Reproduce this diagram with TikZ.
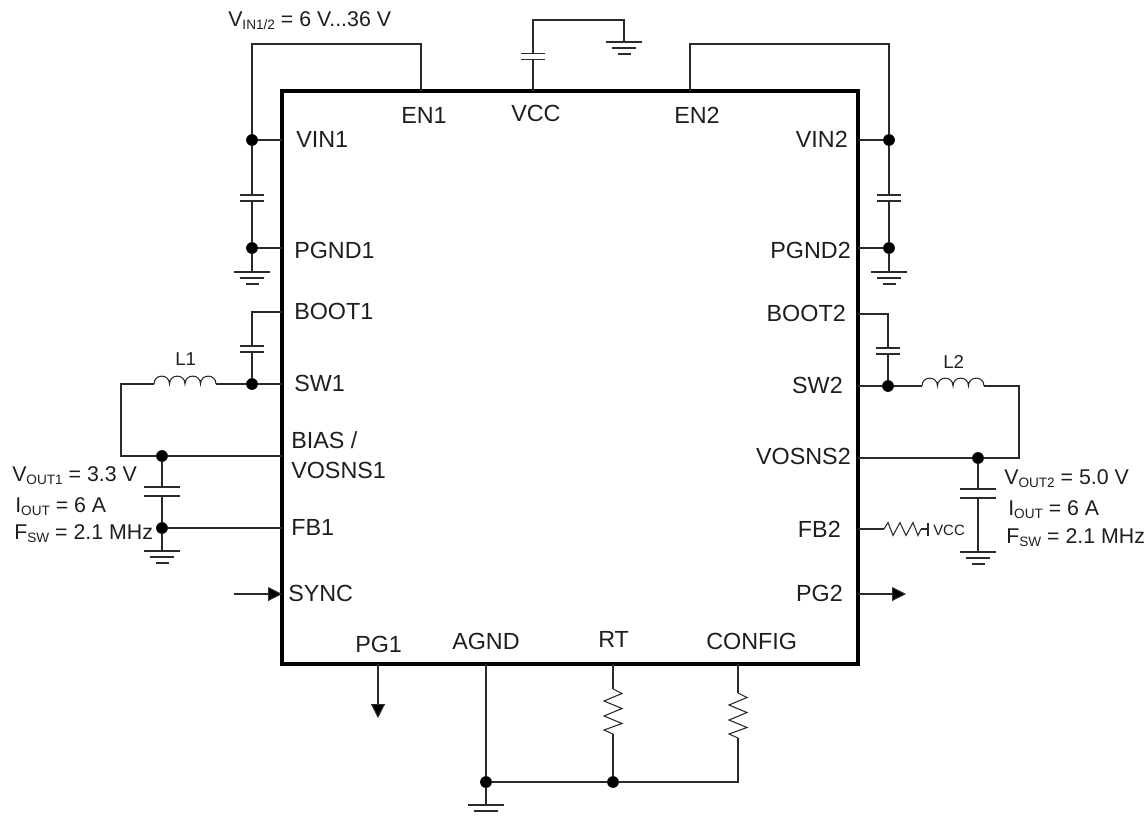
\documentclass[tikz,border=0pt]{standalone}
\usepackage{fontspec}
\setmainfont{Liberation Sans}
\usetikzlibrary{arrows.meta}
\definecolor{ink}{HTML}{1E1E1E}
\definecolor{wirec}{HTML}{2A2A2A}
\newcommand{\lowsub}[1]{\raisebox{-2.6pt}{\fontsize{10.2}{12}\selectfont #1}}
\tikzset{
  wire/.style={draw=wirec,line width=0.8pt,line join=miter},
  sig/.style={wire,-{Triangle[length=10.5pt,width=10.5pt,fill=black]}},
  chipbox/.style={draw=black,line width=2.3pt,minimum width=432pt,minimum height=429.75pt,inner sep=0},
  dot/.style={circle,fill=black,inner sep=0,minimum size=8.8pt},
  pinl/.style={anchor=base west,inner sep=0,text=ink,font=\fontsize{17.5}{20}\selectfont},
  pinr/.style={anchor=base east,inner sep=0,text=ink,font=\fontsize{17.5}{20}\selectfont},
  spec/.style={anchor=base west,inner sep=0,text=ink,font=\fontsize{16}{18}\selectfont},
  tiny/.style={anchor=base west,inner sep=0,text=ink,font=\fontsize{11.2}{13}\selectfont},
  coiltext/.style={anchor=base west,inner sep=0,text=ink,font=\fontsize{14}{16}\selectfont},
  capsmall/.pic={\draw[wire] (-12,-3)--(12,-3) (-12,3)--(12,3);},
  capbig/.pic={\draw[wire] (-18,-4.5)--(18,-4.5) (-18,4.5)--(18,4.5);},
  gnd/.pic={\draw[wire] (-18,0)--(18,0) (-12,6)--(12,6) (-6.5,12)--(6.5,12);},
  coil/.pic={\draw[wire] (0,0)
    .. controls (0,-10.5) and (15.5,-10.5) .. (15.5,0)
    .. controls (15.5,-10.5) and (31,-10.5) .. (31,0)
    .. controls (31,-10.5) and (46.5,-10.5) .. (46.5,0)
    .. controls (46.5,-10.5) and (62,-10.5) .. (62,0);},
  rzig/.pic={\draw[wire] (0,0)--(9,4.5)--(-9,12)--(9,19.5)--(-9,27)--(9,34.5)--(-9,41)--(0,45);},
  hzig/.pic={\draw[wire] (0,0)--(4,-6.5)--(9,6.5)--(16,-6.5)--(22,6.5)--(29,-6.5)--(34,6.5)--(37,0);},
}
\begin{document}
\begin{tikzpicture}[x=0.75pt,y=-0.75pt]
\useasboundingbox (0,0) rectangle (1147,815);
\node[chipbox] (chip) at (570,377.5) {};

% --- top left: input 1
\coordinate (en1pin) at (421,91);
\coordinate (en1top) at (421,44);
\coordinate (vin1top) at (252,44);
\node[dot] (vin1dot) at (252,140) {};
\coordinate (vin1pin) at (282,140);
\coordinate (c1a) at (252,195);
\coordinate (c1b) at (252,201);
\node[dot] (pgnd1dot) at (252,248) {};
\coordinate (pgnd1pin) at (282,248);
\coordinate (g1) at (252,272);
\draw[wire] (en1pin)--(en1top)--(vin1top)--(vin1dot);
\draw[wire] (vin1dot)--(vin1pin);
\draw[wire] (vin1dot)--(c1a);
\draw[wire] (c1b)--(pgnd1dot);
\draw[wire] (pgnd1dot)--(pgnd1pin);
\draw[wire] (pgnd1dot)--(g1);
\pic at (252,198) {capsmall};
\pic at (g1) {gnd};

% --- VCC
\coordinate (vccpin) at (533,91);
\coordinate (c2b) at (533,60);
\coordinate (c2a) at (533,53);
\coordinate (vcctopl) at (533,20);
\coordinate (vcctopr) at (624,20);
\coordinate (g2) at (624,42);
\draw[wire] (vccpin)--(c2b);
\draw[wire] (c2a)--(vcctopl)--(vcctopr)--(g2);
\pic at (533,56.5) {capsmall};
\pic at (g2) {gnd};

% --- top right: input 2
\coordinate (en2pin) at (690,91);
\coordinate (en2top) at (690,44);
\coordinate (vin2top) at (889,44);
\node[dot] (vin2dot) at (889,140) {};
\coordinate (vin2pin) at (858,140);
\coordinate (c3a) at (889,195);
\coordinate (c3b) at (889,201);
\node[dot] (pgnd2dot) at (889,248) {};
\coordinate (pgnd2pin) at (858,248);
\coordinate (g3) at (889,272);
\draw[wire] (en2pin)--(en2top)--(vin2top)--(vin2dot);
\draw[wire] (vin2dot)--(vin2pin);
\draw[wire] (vin2dot)--(c3a);
\draw[wire] (c3b)--(pgnd2dot);
\draw[wire] (pgnd2dot)--(pgnd2pin);
\draw[wire] (pgnd2dot)--(g3);
\pic at (889,198) {capsmall};
\pic at (g3) {gnd};

% --- left switch node
\coordinate (boot1pin) at (282,312);
\coordinate (boot1c) at (252,312);
\coordinate (c4a) at (252,346);
\coordinate (c4b) at (252,352);
\node[dot] (sw1dot) at (252,384) {};
\coordinate (sw1pin) at (282,384);
\coordinate (l1r) at (216,384);
\coordinate (l1l) at (154,384);
\coordinate (l1far) at (121,384);
\coordinate (l1low) at (121,456);
\node[dot] (v1dot) at (162,456) {};
\coordinate (biaspin) at (282,456);
\coordinate (c5a) at (162,487);
\coordinate (c5b) at (162,496);
\node[dot] (fb1dot) at (162,528) {};
\coordinate (fb1pin) at (282,528);
\coordinate (g4) at (162,551);
\draw[wire] (boot1pin)--(boot1c)--(c4a);
\draw[wire] (c4b)--(sw1dot);
\draw[wire] (sw1pin)--(sw1dot);
\draw[wire] (sw1dot)--(l1r);
\draw[wire] (l1l)--(l1far)--(l1low)--(v1dot);
\draw[wire] (v1dot)--(biaspin);
\draw[wire] (v1dot)--(c5a);
\draw[wire] (c5b)--(fb1dot);
\draw[wire] (fb1dot)--(fb1pin);
\draw[wire] (fb1dot)--(g4);
\pic at (252,349) {capsmall};
\pic at (l1l) {coil};
\pic at (162,491.5) {capbig};
\pic at (g4) {gnd};

% --- right switch node
\coordinate (boot2pin) at (858,314);
\coordinate (boot2c) at (888,314);
\coordinate (c6a) at (888,348);
\coordinate (c6b) at (888,354);
\node[dot] (sw2dot) at (888,386) {};
\coordinate (sw2pin) at (858,386);
\coordinate (l2l) at (922,386);
\coordinate (l2r) at (984,386);
\coordinate (l2far) at (1019,386);
\coordinate (l2low) at (1019,458);
\node[dot] (v2dot) at (978,458) {};
\coordinate (vosns2pin) at (858,458);
\coordinate (c7a) at (978,489);
\coordinate (c7b) at (978,498);
\coordinate (g5) at (978,552);
\draw[wire] (boot2pin)--(boot2c)--(c6a);
\draw[wire] (c6b)--(sw2dot);
\draw[wire] (sw2pin)--(sw2dot);
\draw[wire] (sw2dot)--(l2l);
\draw[wire] (l2r)--(l2far)--(l2low)--(v2dot);
\draw[wire] (v2dot)--(vosns2pin);
\draw[wire] (v2dot)--(c7a);
\draw[wire] (c7b)--(g5);
\pic at (888,351) {capsmall};
\pic at (l2l) {coil};
\pic at (978,493.5) {capbig};
\pic at (g5) {gnd};

% --- FB2 pull-up
\coordinate (fb2pin) at (858,529);
\coordinate (r3a) at (884,529);
\coordinate (r3b) at (921,529);
\coordinate (vccbar) at (928,529);
\coordinate (vccbart) at (928,522.5);
\coordinate (vccbarb) at (928,535.5);
\draw[wire] (fb2pin)--(r3a);
\draw[wire] (r3b)--(vccbar);
\draw[wire] (vccbart)--(vccbarb);
\pic at (r3a) {hzig};

% --- signals
\coordinate (syncin) at (234,594);
\coordinate (syncpin) at (282,594);
\coordinate (pg2pin) at (858,594);
\coordinate (pg2out) at (906,594);
\coordinate (pg1pin) at (378,664);
\coordinate (pg1out) at (378,718);
\draw[sig] (syncin)--(syncpin);
\draw[sig] (pg2pin)--(pg2out);
\draw[sig] (pg1pin)--(pg1out);

% --- bottom
\coordinate (agndpin) at (486,664);
\node[dot] (agnddot) at (486,782) {};
\coordinate (g6) at (486,805);
\coordinate (rtpin) at (613,664);
\coordinate (r1a) at (613,689);
\coordinate (r1b) at (613,734);
\node[dot] (rtdot) at (613,782) {};
\coordinate (cfgpin) at (738,664);
\coordinate (r2a) at (738,693);
\coordinate (r2b) at (738,738);
\coordinate (cfglow) at (738,782);
\draw[wire] (agndpin)--(agnddot);
\draw[wire] (agnddot)--(g6);
\draw[wire] (agnddot)--(rtdot);
\draw[wire] (rtpin)--(r1a);
\draw[wire] (r1b)--(rtdot);
\draw[wire] (rtdot)--(cfglow)--(r2b);
\draw[wire] (cfgpin)--(r2a);
\pic at (r1a) {rzig};
\pic at (r2a) {rzig};
\pic at (g6) {gnd};

% --- pin labels
\node[pinl] (tvin1) at (296,147) {VIN1};
\node[pinl] (ten1) at (401,123) {EN1};
\node[pinl] (tvcc) at (511,121) {VCC};
\node[pinl] (ten2) at (674,123) {EN2};
\node[pinl] (tpg1a) at (294,258) {PGND1};
\node[pinl] (tboot1) at (294,319) {BOOT1};
\node[pinl] (tsw1) at (294,391) {SW1};
\node[pinl] (tbias) at (291,448) {BIAS /};
\node[pinl] (tvos1) at (291,478) {VOSNS1};
\node[pinl] (tfb1) at (291,535) {FB1};
\node[pinl] (tsync) at (288,601) {SYNC};
\node[pinr] (tvin2) at (848,147) {VIN2};
\node[pinr] (tpg2a) at (851,258) {PGND2};
\node[pinr] (tboot2) at (846,321) {BOOT2};
\node[pinr] (tsw2) at (843,393) {SW2};
\node[pinr] (tvos2) at (851,464) {VOSNS2};
\node[pinr] (tfb2) at (841,537) {FB2};
\node[pinr] (tpg2) at (843,601) {PG2};
\node[pinl] (tpg1) at (355,652) {PG1};
\node[pinl] (tagnd) at (452,649) {AGND};
\node[pinl] (trt) at (598,647) {RT};
\node[pinl] (tcfg) at (706,649) {CONFIG};

% --- specification labels
\node[spec] (tvin) at (228,26) {V\lowsub{IN1/2} = 6 V...36 V};
\node[spec] (tv1) at (12,481) {V\lowsub{OUT1} = 3.3 V};
\node[spec] (ti1) at (15,512) {I\lowsub{OUT} = 6 A};
\node[spec] (tf1) at (14,539) {F\lowsub{SW} = 2.1 MHz};
\node[spec] (tv2) at (1004,484) {V\lowsub{OUT2} = 5.0 V};
\node[spec] (ti2) at (1008,515) {I\lowsub{OUT} = 6 A};
\node[spec] (tf2) at (1006,543) {F\lowsub{SW} = 2.1 MHz};
\node[coiltext] (tl1) at (175,365) {L1};
\node[coiltext] (tl2) at (943,368) {L2};
\node[tiny] (tvccs) at (933,535) {VCC};
\end{tikzpicture}
\end{document}
